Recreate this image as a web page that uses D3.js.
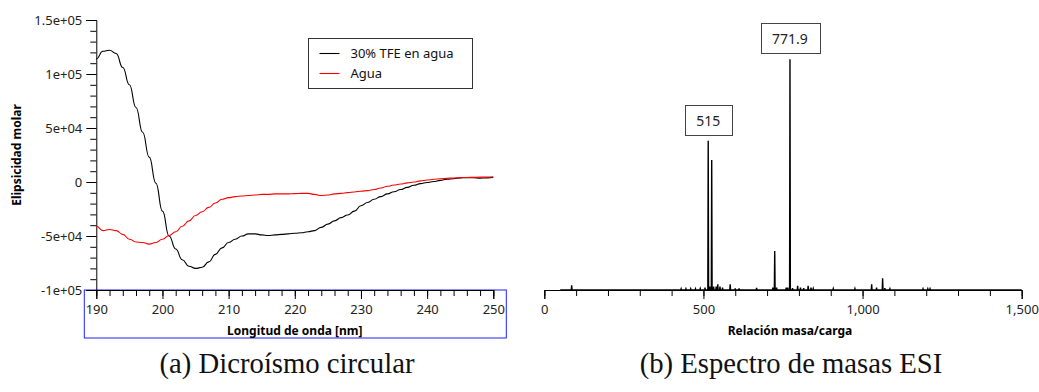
<!DOCTYPE html>
<html>
<head>
<meta charset="utf-8">
<script src="https://cdn.jsdelivr.net/npm/d3@7"></script>
<style>
  html, body { margin: 0; padding: 0; background: #fff; }
  svg { display: block; }
  .sans { font-family: "Noto Sans", "Open Sans", sans-serif; }
  .axis path, .axis line { stroke: #000; }
  .axis text { font-family: "Noto Sans", sans-serif; font-size: 13px; fill: #222; }
</style>
</head>
<body>
<svg id="fig" width="1039" height="392"></svg>
<script>
// ---- Circular dichroism (molar ellipticity, units of 1e4) ----
const wavelengths = d3.range(190, 251);
const tfeValues = [
  11.4, 12.1, 12.2, 11.9, 10.6, 9.0, 6.9, 4.6, 2.3, -0.1,
  -2.7, -5.0, -6.2, -7.2, -7.8, -8.0, -7.9, -7.4, -6.7, -6.1,
  -5.6, -5.3, -5.0, -4.8, -4.8, -4.9, -4.95, -4.9, -4.85, -4.8,
  -4.75, -4.7, -4.6, -4.5, -4.2, -3.9, -3.6, -3.3, -3.05, -2.7,
  -2.2, -1.9, -1.6, -1.35, -1.1, -0.9, -0.7, -0.5, -0.3, -0.15,
  -0.05, 0.05, 0.15, 0.25, 0.3, 0.38, 0.4, 0.4, 0.36, 0.38,
  0.42
];
const waterValues = [
  -4.1, -4.5, -4.4, -4.5, -4.85, -5.3, -5.55, -5.6, -5.75, -5.6,
  -5.3, -4.95, -4.6, -4.1, -3.6, -3.1, -2.75, -2.35, -1.95, -1.6,
  -1.45, -1.35, -1.3, -1.25, -1.2, -1.15, -1.15, -1.1, -1.1, -1.1,
  -1.08, -1.05, -1.05, -1.15, -1.25, -1.2, -1.1, -1.05, -0.98, -0.92,
  -0.85, -0.8, -0.7, -0.55, -0.4, -0.28, -0.18, -0.08, 0.0, 0.1,
  0.18, 0.25, 0.3, 0.34, 0.37, 0.4, 0.42, 0.43, 0.45, 0.46,
  0.48
];
const cdSeriesNames = ["30% TFE en agua", "Agua"];
const cdSeriesColors = ["#000000", "#ff0000"];
const cdYTicks = [150000, 100000, 50000, 0, -50000, -100000];
const cdYTickLabels = ["1.5e+05", "1e+05", "5e+04", "0", "-5e+04", "-1e+05"];
const cdXTicks = [190, 200, 210, 220, 230, 240, 250];

// ---- ESI mass spectrum (relative intensity, %) ----
const mzValues = [
  86, 430, 445, 460, 475, 490, 505, 515, 520, 526,
  532, 540, 545, 552, 560, 584, 600, 612, 667, 718,
  724, 730, 760, 765, 771.9, 780, 796, 805, 815, 829,
  838, 845, 908, 976, 1028.6, 1044, 1063, 1070, 1086, 1190,
  1205, 1212
];
const intensities = [
  2.0, 0.5, 0.5, 0.5, 0.5, 0.6, 1.0, 64.7, 1.5, 56.4,
  1.5, 1.5, 2.5, 1.5, 1.0, 2.5, 0.7, 0.7, 0.9, 1.0,
  16.9, 1.0, 1.0, 1.0, 100, 0.8, 1.8, 1.0, 0.8, 1.8,
  1.0, 0.6, 0.6, 0.6, 2.5, 1.0, 5.1, 0.8, 0.5, 0.5,
  0.5, 0.5
];
const peakLabels = [
  { mz: 515, text: "515" },
  { mz: 771.9, text: "771.9" }
];
const msXTicks = [0, 500, 1000, 1500];
const msXTickLabels = ["0", "500", "1,000", "1,500"];
const msRange = [50, 1500];

const captions = ["(a) Dicroísmo circular", "(b) Espectro de masas ESI"];

const svg = d3.select("#fig");

// ================= Panel (a): CD spectra =================
const xCD = d3.scaleLinear().domain([190, 250]).range([96.3, 493.3]);
const yCD = d3.scaleLinear().domain([-100000, 150000]).range([290, 20]);
const gA = svg.append("g");

// selection frame around the wavelength axis
gA.append("rect")
  .attr("x", xCD(190) - 12).attr("y", yCD(-100000))
  .attr("width", xCD(250) - xCD(190) + 25).attr("height", 48)
  .attr("fill", "none").attr("stroke", "#1f1fff").attr("stroke-width", 1);

// y axis: minor then major ticks
gA.append("g").attr("class", "axis")
  .attr("transform", `translate(${xCD(190)},0)`)
  .call(d3.axisLeft(yCD).tickValues(d3.range(-100000, 150001, 10000))
    .tickSize(6).tickFormat(""))
  .call(g => g.select(".domain").remove());
gA.append("g").attr("class", "axis")
  .attr("transform", `translate(${xCD(190)},0)`)
  .call(d3.axisLeft(yCD).tickValues(cdYTicks).tickSizeOuter(0).tickSize(10)
    .tickPadding(4).tickFormat((d, i) => cdYTickLabels[i]));

// x axis: minor then major ticks
gA.append("g").attr("class", "axis")
  .attr("transform", `translate(0,${yCD(-100000)})`)
  .call(d3.axisBottom(xCD).tickValues(d3.range(190, 251, 2)).tickSize(6).tickFormat(""))
  .call(g => g.select(".domain").remove());
gA.append("g").attr("class", "axis")
  .attr("transform", `translate(0,${yCD(-100000)})`)
  .call(d3.axisBottom(xCD).tickValues(cdXTicks).tickSizeOuter(0).tickSize(9)
    .tickPadding(6).tickFormat(d3.format("d")));

gA.append("text").attr("class", "sans")
  .attr("x", (xCD(190) + xCD(250)) / 2).attr("y", 335)
  .attr("text-anchor", "middle").attr("font-size", 12).attr("font-weight", "bold")
  .text("Longitud de onda [nm]");
gA.append("text").attr("class", "sans")
  .attr("transform", `translate(21,${(yCD(150000) + yCD(-100000)) / 2}) rotate(-90)`)
  .attr("text-anchor", "middle").attr("font-size", 12).attr("font-weight", "bold")
  .text("Elipsicidad molar");

const cdLine = d3.line()
  .x(d => xCD(d[0])).y(d => yCD(d[1] * 10000))
  .curve(d3.curveBumpX);
[tfeValues, waterValues].forEach((vals, i) => {
  gA.append("path")
    .datum(wavelengths.map((w, j) => [w, vals[j]]))
    .attr("d", cdLine)
    .attr("fill", "none").attr("stroke", cdSeriesColors[i])
    .attr("stroke-width", 1.1).attr("stroke-linejoin", "round");
});

// legend
const leg = gA.append("g").attr("transform", "translate(308.5,38.5)");
leg.append("rect").attr("width", 164).attr("height", 50)
  .attr("fill", "#fff").attr("stroke", "#333").attr("stroke-width", 1);
cdSeriesNames.forEach((name, i) => {
  const yy = 15 + i * 20;
  leg.append("line").attr("x1", 11).attr("x2", 31).attr("y1", yy).attr("y2", yy)
    .attr("stroke", cdSeriesColors[i]).attr("stroke-width", 1.1);
  leg.append("text").attr("class", "sans").attr("x", 42).attr("y", yy + 4.5)
    .attr("font-size", 13).attr("fill", "#111").text(name);
});

// ================= Panel (b): mass spectrum =================
const xMS = d3.scaleLinear().domain([0, 1500]).range([544.3, 1021.7]);
const yMS = d3.scaleLinear().domain([0, 100]).range([290, 59.3]);
const gB = svg.append("g");

gB.append("g").attr("class", "axis")
  .attr("transform", `translate(0,290)`)
  .call(d3.axisBottom(xMS).tickValues(d3.range(0, 1501, 100)).tickSize(6).tickFormat(""))
  .call(g => g.select(".domain").remove());
gB.append("g").attr("class", "axis")
  .attr("transform", `translate(0,290)`)
  .call(d3.axisBottom(xMS).tickValues(msXTicks).tickSizeOuter(0).tickSize(9)
    .tickPadding(6).tickFormat((d, i) => msXTickLabels[i]));

gB.append("text").attr("class", "sans")
  .attr("x", 790).attr("y", 335)
  .attr("text-anchor", "middle").attr("font-size", 12).attr("font-weight", "bold")
  .text("Relación masa/carga");

// spectrum trace: baseline with narrow peaks
const spec = [[msRange[0], 0]];
mzValues.forEach((m, i) => {
  spec.push([m - 1.2, 0], [m, intensities[i]], [m + 1.2, 0]);
});
spec.push([msRange[1], 0]);
gB.append("path")
  .datum(spec)
  .attr("d", d3.line().x(d => xMS(d[0])).y(d => yMS(d[1])))
  .attr("fill", "none").attr("stroke", "#000").attr("stroke-width", 1.4)
  .attr("stroke-linejoin", "miter");

// peak annotations
peakLabels.forEach(p => {
  const i = mzValues.indexOf(p.mz);
  const top = yMS(intensities[i]);
  const g = gB.append("g");
  const t = g.append("text").attr("class", "sans")
    .attr("x", xMS(p.mz)).attr("y", top - 15)
    .attr("text-anchor", "middle").attr("font-size", 14).attr("fill", "#222")
    .text(p.text);
  const w = t.node().getComputedTextLength() + 23;
  g.insert("rect", "text")
    .attr("x", Math.round(xMS(p.mz) - w / 2) + 0.5).attr("y", Math.round(top - 36) + 0.5)
    .attr("width", Math.round(w)).attr("height", 30)
    .attr("fill", "#fff").attr("stroke", "#444").attr("stroke-width", 1);
});

// ================= captions (one shared size) =================
const capCenters = [287, 791];
const capNodes = captions.map((c, i) => svg.append("text")
  .attr("x", capCenters[i]).attr("y", 373)
  .attr("text-anchor", "middle")
  .attr("font-family", "'Liberation Serif', 'DejaVu Serif', serif")
  .attr("font-size", 24).attr("fill", "#111")
  .text(c));
const totalLen = d3.sum(capNodes, t => t.node().getComputedTextLength());
const capSize = 24 * 558 / totalLen;
capNodes.forEach(t => t.attr("font-size", capSize));
</script>
</body>
</html>
